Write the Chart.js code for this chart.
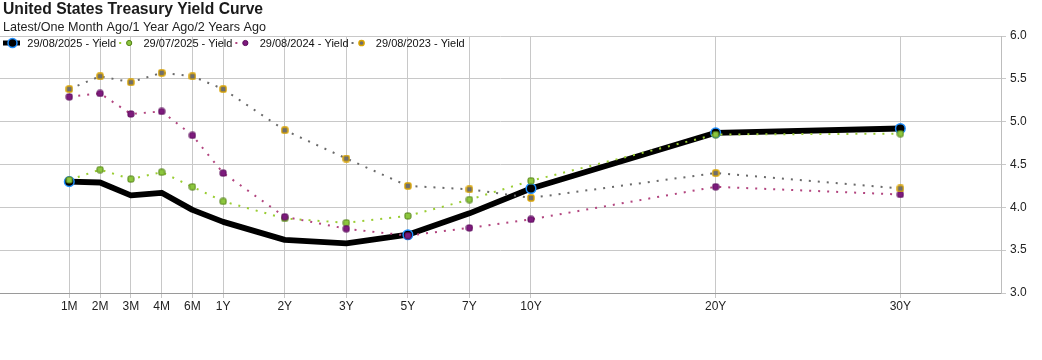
<!DOCTYPE html>
<html><head><meta charset="utf-8">
<script src="https://cdn.jsdelivr.net/npm/chart.js@4.4.1/dist/chart.umd.min.js"></script>
<style>html,body{margin:0;padding:0;background:#fff;}#wrap{width:1042px;height:360px;position:relative;}</style>
</head><body><div id="wrap"><canvas id="c" width="1042" height="360"></canvas></div>
<script>
// ---- data ----
const tenors = ['1M','2M','3M','4M','6M','1Y','2Y','3Y','5Y','7Y','10Y','20Y','30Y'];
const tenorPos = [0,1,2,3,4,5,7,9,11,13,15,21,27];
const yieldsAug2025 = [4.30,4.29,4.14,4.17,3.97,3.83,3.62,3.58,3.68,3.93,4.22,4.87,4.92];
const yieldsJul2025 = [4.32,4.44,4.33,4.41,4.24,4.07,3.87,3.82,3.90,4.09,4.31,4.85,4.86];
const yieldsAug2024 = [5.29,5.33,5.09,5.12,4.84,4.40,3.89,3.75,3.67,3.76,3.86,4.24,4.15];
const yieldsAug2023 = [5.38,5.53,5.46,5.57,5.53,5.38,4.90,4.57,4.25,4.21,4.11,4.40,4.22];
const seriesLabels = ['29/08/2025 - Yield','29/07/2025 - Yield','29/08/2024 - Yield','29/08/2023 - Yield'];
const markedTenors = ['1M','5Y','10Y','20Y','30Y'];
const titleText = 'United States Treasury Yield Curve';
const subtitleText = 'Latest/One Month Ago/1 Year Ago/2 Years Ago';

const FONT = "'Liberation Sans', Arial, Helvetica, sans-serif";
const pts = arr => arr.map((v,i)=>({x:tenorPos[i], y:v}));

function markerImg(fill, stroke, lw){
  const c = document.createElement('canvas');
  c.width = 8; c.height = 8;
  const g = c.getContext('2d');
  g.beginPath();
  if (g.roundRect) g.roundRect(1, 1, 6, 6, 1.6); else g.rect(1,1,6,6);
  g.fillStyle = fill; g.fill();
  g.lineWidth = lw; g.strokeStyle = stroke; g.stroke();
  return c;
}

const dsBlack = {
  label: seriesLabels[0], data: pts(yieldsAug2025), order: 4,
  borderColor:'#000', borderWidth:5.8, borderJoinStyle:'round',
  pointRadius: c => markedTenors.includes(tenors[c.dataIndex]) ? 4.8 : 0,
  pointStyle:'circle', pointBackgroundColor:'#000', pointBorderColor:'#1f8fff', pointBorderWidth:1.5,
  legendRadius:4.5
};
const dsGreen = {
  label: seriesLabels[1], data: pts(yieldsJul2025), order: 3,
  borderColor:'#9acd32', borderWidth:2, borderDash:[2,7],
  pointRadius:4, pointStyle: markerImg('#8cc63e','#4f7d12',1), pointBackgroundColor:'#8cc63e', pointBorderColor:'#4f7d12', pointBorderWidth:1,
  legendRadius:2.6
};
const dsPurple = {
  label: seriesLabels[2], data: pts(yieldsAug2024), order: 2,
  borderColor:'#b2457f', borderWidth:2, borderDash:[2,7],
  pointRadius:4, pointStyle: markerImg('#7d1a7d','#5a0b5a',1), pointBackgroundColor:'#7d1a7d', pointBorderColor:'#5a0b5a', pointBorderWidth:1,
  legendRadius:2.6
};
const dsGold = {
  label: seriesLabels[3], data: pts(yieldsAug2023), order: 1,
  borderColor:'#6a6a6a', borderWidth:2, borderDash:[2,7],
  pointRadius:4, pointStyle: markerImg('#6e6e6e','#d9a300',1.4), pointBackgroundColor:'#6e6e6e', pointBorderColor:'#d9a300', pointBorderWidth:1.5,
  legendRadius:2.6
};
const datasets = [dsBlack, dsGreen, dsPurple, dsGold];

const headerPlugin = {
  id:'header',
  afterDraw(chart){
    const ctx = chart.ctx;
    ctx.save();
    ctx.fillStyle = '#1a1a1a';
    ctx.textBaseline = 'alphabetic';
    ctx.textAlign = 'left';
    ctx.font = 'bold 15.7px ' + FONT;
    ctx.fillText(titleText, 3, 14);
    ctx.fillStyle = '#222';
    ctx.font = '12.6px ' + FONT;
    ctx.fillText(subtitleText, 3, 30.7);
    // legend
    ctx.font = '11px ' + FONT;
    let x = 3;
    const y = 43;
    chart.data.datasets.forEach(ds => {
      ctx.save();
      ctx.strokeStyle = ds.borderColor;
      ctx.lineWidth = ds.borderDash ? 2 : 5;
      ctx.setLineDash(ds.borderDash || []);
      ctx.beginPath();
      ctx.moveTo(x, y); ctx.lineTo(x + (ds.borderDash ? 18 : 17), y);
      ctx.stroke();
      ctx.setLineDash([]);
      ctx.beginPath();
      ctx.arc(x + (ds.borderDash ? 10 : 9.5), y, ds.legendRadius, 0, Math.PI*2);
      ctx.fillStyle = ds.pointBackgroundColor;
      ctx.fill();
      ctx.lineWidth = ds.pointBorderWidth;
      ctx.strokeStyle = ds.pointBorderColor;
      ctx.stroke();
      ctx.restore();
      ctx.fillStyle = '#111';
      ctx.textBaseline = 'alphabetic';
      ctx.fillText(ds.label, x + 24.3, 46.8);
      x += 24.3 + ctx.measureText(ds.label).width + 3;
    });
    ctx.restore();
  }
};

new Chart(document.getElementById('c'), {
  type:'line',
  data:{ datasets },
  options:{
    responsive:false, animation:false, devicePixelRatio:1,
    layout:{ autoPadding:false, padding:{ top:36, left:0, right:0, bottom:0 } },
    plugins:{ legend:{display:false}, title:{display:false}, tooltip:{enabled:false} },
    elements:{ line:{ tension:0, borderCapStyle:'butt' } },
    scales:{
      x:{
        type:'linear', position:'bottom', min:-2.251, max:30.27,
        afterBuildTicks: s => { s.ticks = tenorPos.map(v => ({value:v})); },
        afterFit: s => { s.height = 67; s.paddingLeft = 0; s.paddingRight = 0; },
        ticks:{ autoSkip:false, maxRotation:0, minRotation:0, padding:1, color:'#222',
          font:{ size:12, family:FONT }, callback:(v,i) => tenors[i] },
        grid:{ color:'#c8c8c8', lineWidth:1, tickLength:5 },
        border:{ color:'#9a9a9a', width:1 }
      },
      y:{
        position:'right', min:3, max:6,
        afterFit: s => { s.width = 41; s.paddingTop = 0; s.paddingBottom = 0; },
        ticks:{ stepSize:0.5, padding:4, color:'#222', font:{ size:12, family:FONT },
          callback: v => Number(v).toFixed(1) },
        grid:{ color:'#c8c8c8', lineWidth:1, tickLength:5 },
        border:{ color:'#bdbdbd', width:1 }
      }
    }
  },
  plugins:[headerPlugin]
});
</script></body></html>
